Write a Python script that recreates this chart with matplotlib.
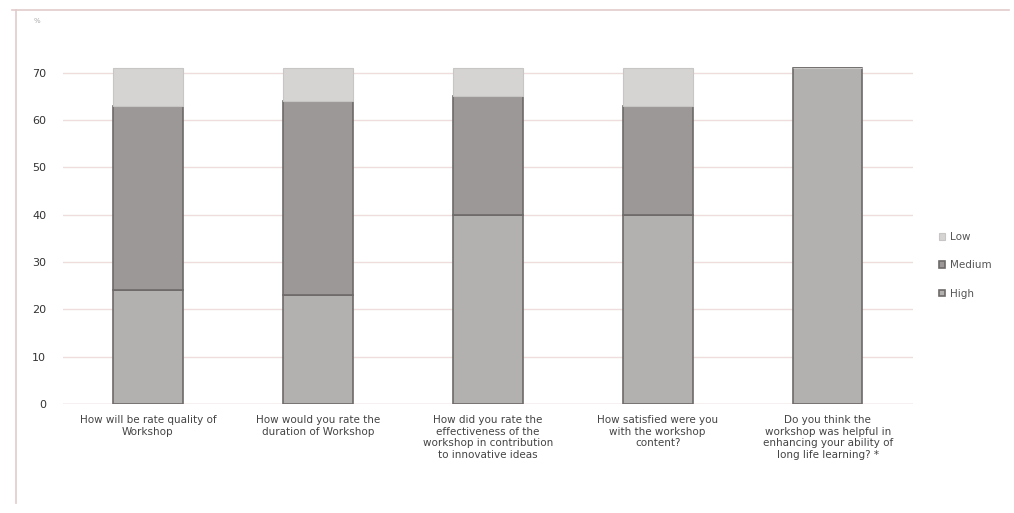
import numpy as np
import matplotlib.pyplot as plt
from matplotlib.lines import Line2D

questions = [
    "How will be rate quality of\nWorkshop",
    "How would you rate the\nduration of Workshop",
    "How did you rate the\neffectiveness of the\nworkshop in contribution\nto innovative ideas",
    "How satisfied were you\nwith the workshop\ncontent?",
    "Do you think the\nworkshop was helpful in\nenhancing your ability of\nlong life learning? *",
]
high = [24, 23, 40, 40, 71]
medium = [39, 41, 25, 23, 0]
low = [8, 7, 6, 8, 0]

fig = plt.figure(figsize=(10.14, 5.13), dpi=100)
ax = fig.add_axes([0.062, 0.2125, 0.838, 0.72])

x = np.arange(len(questions))
w = 0.41
edge = "#6e6a6a"
ax.bar(x, high, w, color="#b3b0b0", edgecolor=edge, linewidth=1.2, label="High", zorder=3)
ax.bar(x, medium, w, bottom=high, color="#9c9898", edgecolor=edge, linewidth=1.2,
       label="Medium", zorder=3)
ax.bar(x, low, w, bottom=np.add(high, medium), color="#d6d3d3", edgecolor="#c8c5c5",
       linewidth=0.8, label="Low", zorder=3)

ax.set_xlim(-0.5, len(questions) - 0.5)
ax.set_ylim(0, 78)
ax.set_yticks(range(0, 71, 10))
ax.tick_params(axis="y", length=0, labelsize=8, labelcolor="#333333", pad=12)
ax.tick_params(axis="x", length=0, labelsize=7.5, labelcolor="#444444", pad=8)
ax.set_xticks(x)
ax.set_xticklabels(questions)
ax.grid(axis="y", color="#efdcdc", linewidth=1.0, zorder=0)
for s in ax.spines.values():
    s.set_visible(False)
ax.axhline(0, color="#e6d0d0", linewidth=1, zorder=1)

handles, labels = ax.get_legend_handles_labels()
leg = ax.legend(handles[::-1], labels[::-1], loc="center left", bbox_to_anchor=(1.02, 0.375),
                frameon=False, fontsize=7.5, handlelength=0.6, handleheight=0.6,
                labelspacing=1.75, handletextpad=0.5)
for t in leg.get_texts():
    t.set_color("#555555")

fig.text(0.033, 0.955, "%", fontsize=5, color="#aaaaaa")
fig.add_artist(Line2D([0.012, 0.995], [0.98, 0.98], transform=fig.transFigure,
                      color="#e2cccc", linewidth=1.2))
fig.add_artist(Line2D([0.016, 0.016], [0.02, 0.98], transform=fig.transFigure,
                      color="#e2cccc", linewidth=1.2))

fig.savefig("out.png", dpi=100)
